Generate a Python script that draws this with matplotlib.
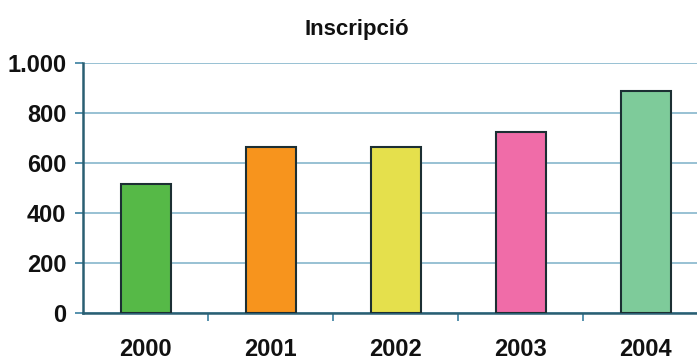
import matplotlib
matplotlib.use("Agg")
import matplotlib.pyplot as plt
from matplotlib.ticker import FuncFormatter, FixedLocator

years = ["2000", "2001", "2002", "2003", "2004"]
values = [516, 666, 666, 724, 890]
colors = ["#56b947", "#f7941d", "#e5e04c", "#f06ca8", "#7ecb9a"]
yticks = [0, 200, 400, 600, 800, 1000]

plt.rcParams['font.family'] = ['Liberation Sans Narrow', 'Liberation Sans', 'DejaVu Sans']

W, H = 697, 362
fig = plt.figure(figsize=(W/100, H/100), dpi=100)
left, right, bottom, top = 83, 708, 313, 63
ax = fig.add_axes([left/W, 1 - bottom/H, (right-left)/W, (bottom-top)/H])

x = list(range(len(years)))
ax.bar(x, values, width=0.4, color=colors, edgecolor="#1c2f33", linewidth=1.5, zorder=3)
ax.set_xlim(-0.5, len(years) - 0.5)
ax.set_ylim(0, 1000)
ax.set_yticks(yticks)
ax.yaxis.set_major_formatter(FuncFormatter(lambda v, p: f"{int(v):,}".replace(",", ".")))
ax.set_xticks(x)
ax.set_xticklabels(years)
ax.xaxis.set_minor_locator(FixedLocator([i + 0.5 for i in range(len(years) - 1)]))
ax.tick_params(axis='x', which='major', length=0, pad=18)
ax.tick_params(axis='x', which='minor', length=6, color="#3a7f9f", width=1.2)
ax.tick_params(axis='y', length=6, color="#3a7f9f", width=1.2, pad=6)
for lab in ax.get_xticklabels() + ax.get_yticklabels():
    lab.set_fontsize(17)
    lab.set_fontweight('bold')
    lab.set_color('#111111')
ax.grid(axis='y', color="#86b6cc", linewidth=1.2, zorder=0)
for s in ['top', 'right']:
    ax.spines[s].set_visible(False)
ax.spines['left'].set_color("#2a5f73")
ax.spines['left'].set_linewidth(1.8)
ax.spines['bottom'].set_color("#2a5f73")
ax.spines['bottom'].set_linewidth(1.8)
fig.text(357/W, 1 - 30/H, "Inscripció", ha='center', va='center', fontsize=16, fontweight='bold', color='#111111')
fig.savefig("out.png", dpi=100)
